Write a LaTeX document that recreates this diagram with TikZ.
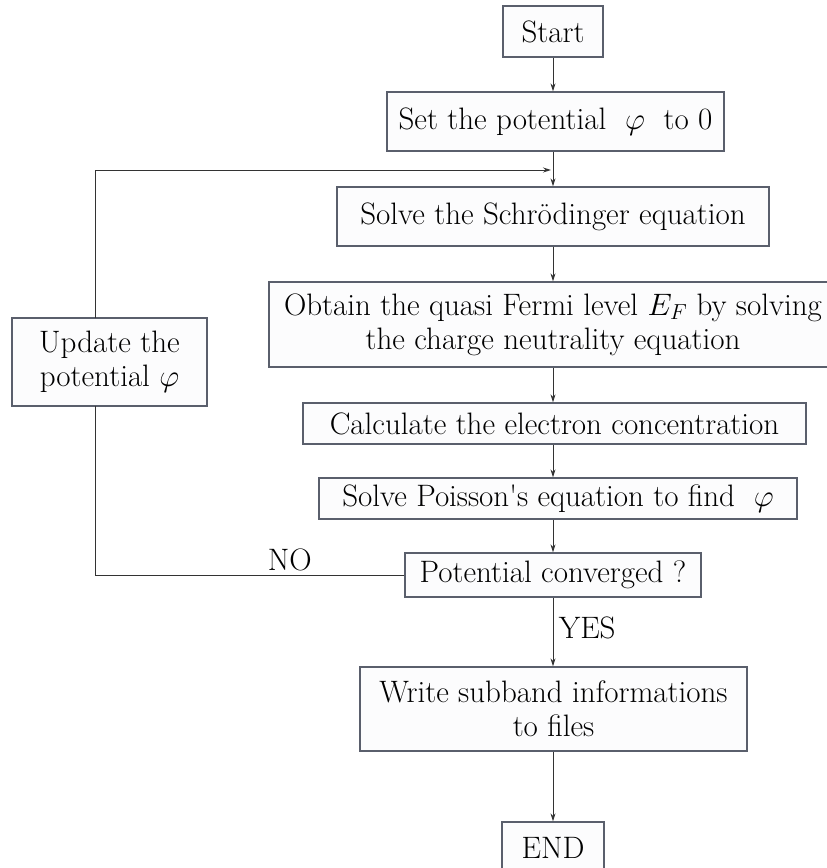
\RequirePackage{fix-cm}
\documentclass[tikz,border=0pt]{standalone}
\usetikzlibrary{arrows.meta}

\definecolor{boxline}{HTML}{5A5F6C}
\definecolor{boxfill}{HTML}{FCFCFD}
\definecolor{wire}{HTML}{333333}

\begin{document}
\begin{tikzpicture}[
    x=1pt, y=-1pt,
    font=\fontsize{31}{34}\selectfont,
    stepbox/.style={rectangle, draw=boxline, fill=boxfill, line width=1.3pt, inner sep=2pt, align=center},
    arr/.style={draw=wire, line width=0.9pt, -{Stealth[length=8pt, width=5pt]}},
    wireline/.style={draw=wire, line width=0.9pt}
]
    \useasboundingbox (0,0) rectangle (827,868);

    % ==================== MAIN COLUMN ====================
    \node[stepbox, minimum width=100pt, minimum height=51pt] (start) at (553, 31.5) {Start};
    \node[stepbox, minimum width=337pt, minimum height=59pt] (set) at (555.5, 121.5) {Set the potential \ $\varphi$ \ to 0};
    \node[stepbox, minimum width=432pt, minimum height=59pt] (solve) at (553, 216.5) {Solve the Schr\"odinger equation};
    \node[stepbox, minimum width=568pt, minimum height=85pt] (fermi) at (553, 324.5) {Obtain the quasi Fermi level $E_F$ by solving\\the charge neutrality equation};
    \node[stepbox, minimum width=503pt, minimum height=41pt] (calc) at (554.5, 423.5) {Calculate the electron concentration};
    \node[stepbox, minimum width=478pt, minimum height=41pt] (poisson) at (558, 498.5) {Solve Poisson\textquotesingle s equation to find \ $\varphi$};
    \node[stepbox, minimum width=296pt, minimum height=44pt] (conv) at (553, 575) {Potential converged ?};
    \node[stepbox, minimum width=387pt, minimum height=84pt] (write) at (553.5, 709) {Write subband informations\\to files};
    \node[stepbox, minimum width=102pt, minimum height=51pt] (finish) at (553, 847.5) {END};

    % ==================== UPDATE BOX ====================
    \node[stepbox, minimum width=195pt, minimum height=88pt] (update) at (109.5, 362) {Update the\\potential $\varphi$};

    % Corners of the feedback loop
    \coordinate (upbot) at (95, 406);
    \coordinate (uptop) at (95, 318);
    \coordinate (noturn) at (95, 575);
    \coordinate (loopturn) at (95, 170);
    \coordinate (loopin) at (553, 170);

    % ==================== ARROWS ====================
    \draw[arr] (start.south -| 553,0) -- (set.north -| 553,0);
    \draw[wireline] (set.south -| 553,0) -- (loopin);
    \draw[arr] (loopin) -- (solve.north -| 553,0);
    \draw[arr] (solve.south -| 553,0) -- (fermi.north -| 553,0);
    \draw[arr] (fermi.south -| 553,0) -- (calc.north -| 553,0);
    \draw[arr] (calc.south -| 553,0) -- (poisson.north -| 553,0);
    \draw[arr] (poisson.south -| 553,0) -- (conv.north -| 553,0);
    \draw[arr] (conv.south -| 553,0) -- node[right, xshift=2pt, yshift=4pt] (yes) {YES} (write.north -| 553,0);
    \draw[arr] (write.south -| 553,0) -- (finish.north -| 553,0);

    % NO branch and feedback
    \draw[wireline] (conv.west) -- node[above, pos=0.37, yshift=0pt] (no) {NO} (noturn) -- (upbot);
    \draw[wireline] (uptop) -- (loopturn);
    \draw[arr] (loopturn) -- ([xshift=-2pt]loopin);

\end{tikzpicture}
\end{document}
